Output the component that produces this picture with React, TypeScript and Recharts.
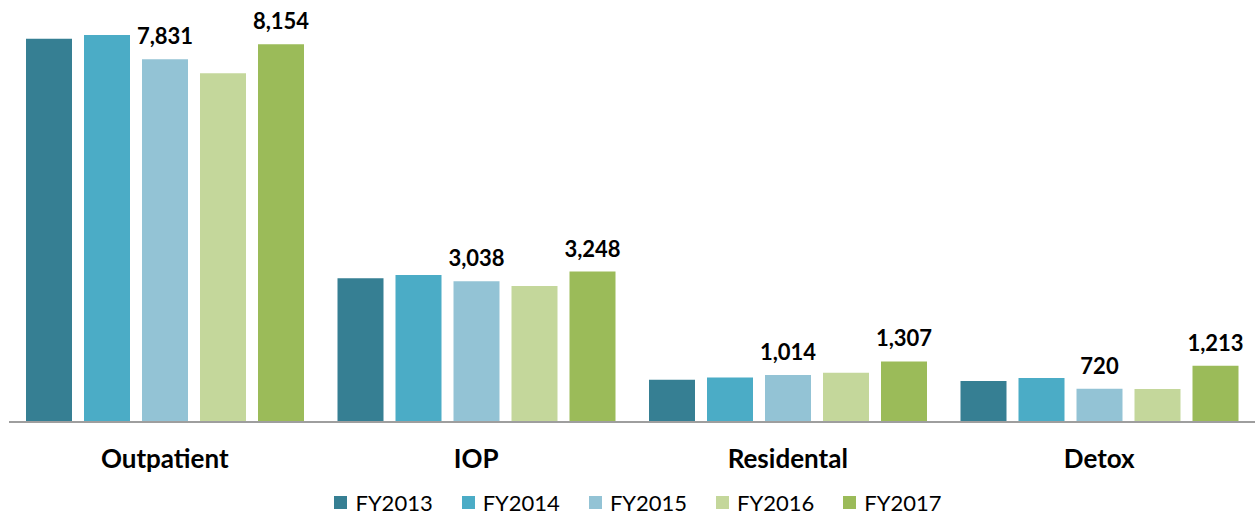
import React from 'react';
import { BarChart, Bar, XAxis, YAxis, LabelList } from 'recharts';

const categories = ['Outpatient', 'IOP', 'Residental', 'Detox'];
const fy2013 = [8269, 3102, 911, 884];
const fy2014 = [8355, 3174, 962, 949];
const fy2015 = [7831, 3038, 1014, 720];
const fy2016 = [7528, 2936, 1065, 712];
const fy2017 = [8154, 3248, 1307, 1213];

const seriesNames = ['FY2013', 'FY2014', 'FY2015', 'FY2016', 'FY2017'];
const seriesColors = ['#367f93', '#4bacc6', '#93c3d5', '#c4d79b', '#9bbb59'];
const labelled = ['FY2015', 'FY2017'];

const data = categories.map((name, i) => ({
  name,
  FY2013: fy2013[i],
  FY2014: fy2014[i],
  FY2015: fy2015[i],
  FY2016: fy2016[i],
  FY2017: fy2017[i],
}));

const FONT = 'Lato, "Open Sans", sans-serif';

function CategoryTick(props: any) {
  const { x, y, payload } = props;
  return (
    <text
      x={x}
      y={y + 38}
      textAnchor="middle"
      fontFamily={FONT}
      fontWeight="bold"
      fontSize={26}
      fill="#000"
    >
      {payload.value}
    </text>
  );
}

export default function App() {
  return (
    <div style={{ position: 'absolute', left: 0, top: 0, width: 1255, height: 519, background: '#fff' }}>
      <BarChart
        width={1255}
        height={485}
        data={data}
        margin={{ top: 5, right: 0, left: 9, bottom: 0 }}
        barSize={46}
        barGap={12}
      >
        <XAxis
          dataKey="name"
          height={63}
          axisLine={{ stroke: '#9e9e9e', strokeWidth: 2 }}
          tickLine={false}
          tick={<CategoryTick />}
        />
        <YAxis hide domain={[0, 9000]} />
        {seriesNames.map((s, i) => (
          <Bar key={s} dataKey={s} fill={seriesColors[i]} isAnimationActive={false}>
            {labelled.includes(s) && (
              <LabelList
                dataKey={s}
                position="top"
                offset={15}
                formatter={(v: any) => Number(v).toLocaleString('en-US')}
                style={{ fontFamily: FONT, fontWeight: 'bold', fontSize: 22, fill: '#000' }}
              />
            )}
          </Bar>
        ))}
      </BarChart>
      <div
        style={{
          height: 34,
          display: 'flex',
          justifyContent: 'center',
          alignItems: 'center',
          fontFamily: FONT,
          fontSize: 22,
          color: '#000',
          paddingLeft: 50,
        }}
      >
        {seriesNames.map((s, i) => (
          <div key={s} style={{ display: 'flex', alignItems: 'center', marginRight: 29 }}>
            <span style={{ width: 13, height: 13, background: seriesColors[i], marginRight: 8, display: 'inline-block' }} />
            <span>{s}</span>
          </div>
        ))}
      </div>
    </div>
  );
}
